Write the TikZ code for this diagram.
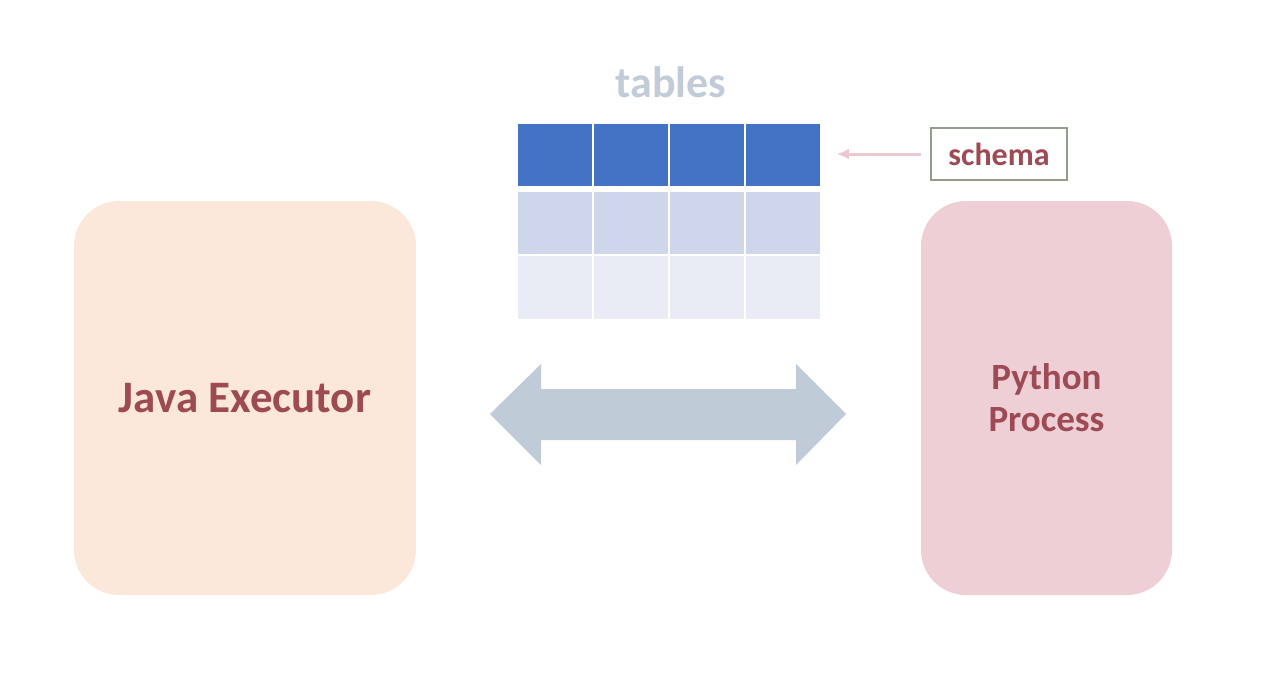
\documentclass[tikz,border=0pt]{standalone}
\usepackage{fontspec}
\setmainfont{Carlito}
\usetikzlibrary{positioning}
\usetikzlibrary{arrows.meta}

\definecolor{javafill}{HTML}{FCE8DA}
\definecolor{pyfill}{HTML}{EDCFD5}
\definecolor{labelred}{HTML}{9E4A54}
\definecolor{tablegray}{HTML}{C2CCD8}
\definecolor{headblue}{HTML}{4472C4}
\definecolor{rowmid}{HTML}{CFD5EA}
\definecolor{rowlight}{HTML}{E9EBF5}
\definecolor{schemaline}{HTML}{8FA08A}
\definecolor{schemaarrow}{HTML}{EBC9D0}
\definecolor{linkfill}{HTML}{C0CBD8}

\begin{document}
\begin{tikzpicture}[x=1pt,y=-1pt,
  proc/.style={rounded corners=45pt,inner sep=0pt,text=labelred,align=center},
  cell/.style={inner sep=0pt,minimum width=73.5pt,anchor=north west}]
\useasboundingbox (0,0) rectangle (1280,686);
\node[proc,fill=javafill,minimum width=342pt,minimum height=394pt,
      font=\fontsize{45}{50}\selectfont\bfseries] (java) at (245,398) {Java Executor};
\node[proc,fill=pyfill,minimum width=251pt,minimum height=394pt,
      font=\fontsize{37}{42}\selectfont\bfseries] (python) at (1046.5,398) {Python\\Process};
\node[font=\fontsize{44}{48}\selectfont\bfseries,text=tablegray] (tables) at (671,82) {tables};
% the table
\foreach \c/\x in {1/518,2/594,3/670,4/746}{
  \node[cell,fill=headblue,minimum height=62pt] (h\c) at (\x,124) {};
  \node[cell,fill=rowmid,minimum height=62pt]   (m\c) at (\x,192) {};
  \node[cell,fill=rowlight,minimum height=63pt] (l\c) at (\x,256) {};
}
\node[draw=schemaline,line width=1.5pt,minimum width=136pt,minimum height=52pt,inner sep=0pt,
      font=\fontsize{32}{36}\selectfont\bfseries,text=labelred] (schema) at (999,154) {schema};
\draw[-{Latex[length=12pt,width=11pt]},schemaarrow,line width=3pt,shorten <=9pt,shorten >=17pt]
  (schema.west) -- (h4.east |- schema.west);
% two way arrow
\fill[linkfill] (490,414) -- (541,364) -- (541,389) -- (796,389) -- (796,364) -- (846,414)
  -- (796,465) -- (796,440) -- (541,440) -- (541,465) -- cycle;
\end{tikzpicture}
\end{document}
